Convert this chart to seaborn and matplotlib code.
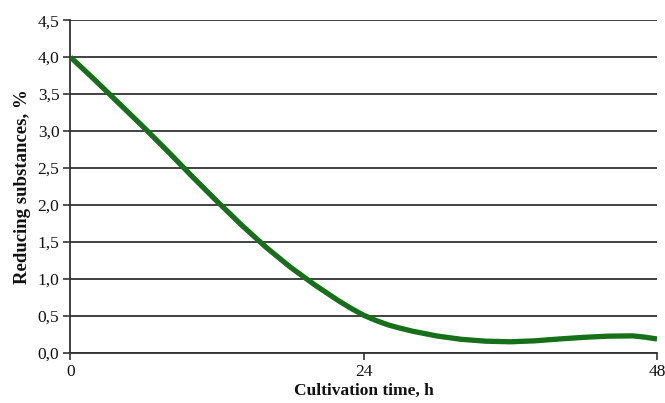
import matplotlib
matplotlib.use("Agg")
import matplotlib.pyplot as plt
import seaborn as sns
import pandas as pd

hours = [0, 2, 4, 6, 8, 10, 12, 14, 16, 18, 20, 21, 22, 23, 24, 25, 26, 27, 28, 30, 32, 34, 36, 38, 40,
         42, 44, 46, 47, 48]
reducing = [4.00, 3.69, 3.37, 3.05, 2.72, 2.38, 2.05, 1.73, 1.43, 1.16, 0.92, 0.81, 0.70, 0.60, 0.51,
            0.44, 0.38, 0.335, 0.295, 0.23, 0.185, 0.16, 0.152, 0.165, 0.19, 0.212, 0.228, 0.232, 0.215, 0.19]
x_ticks = [0, 24, 48]
y_ticks = [0.0, 0.5, 1.0, 1.5, 2.0, 2.5, 3.0, 3.5, 4.0, 4.5]

sns.set_theme(style="white")
plt.rcParams['font.family'] = ['Liberation Serif', 'DejaVu Serif']

df = pd.DataFrame({"Cultivation time, h": hours, "Reducing substances, %": reducing})

fig = plt.figure(figsize=(6.65, 4.03), dpi=100)
ax = fig.add_axes([0.106, 0.124, 0.882, 0.826])

for yv in y_ticks:
    ax.axhline(yv, color="#333333", lw=1.3, zorder=1)

sns.lineplot(data=df, x="Cultivation time, h", y="Reducing substances, %", ax=ax,
             color="#16701a", lw=3.8, zorder=3, solid_joinstyle="round", solid_capstyle="butt")

ax.set_xlim(0, 48)
ax.set_ylim(0, 4.5)
ax.set_xticks(x_ticks)
ax.set_xticklabels([str(v) for v in x_ticks])
ax.set_yticks(y_ticks)
ax.set_yticklabels([f"{v:.1f}".replace(".", ",") for v in y_ticks])
ax.tick_params(axis="both", which="major", length=5, width=1.2, color="#333333",
               labelsize=12.5, labelcolor="#111111", direction="out", bottom=True, left=True, pad=3)
for s in ["top", "right"]:
    ax.spines[s].set_visible(False)
for s in ["left", "bottom"]:
    ax.spines[s].set_color("#333333")
    ax.spines[s].set_linewidth(1.3)
ax.set_xlabel("Cultivation time, h", fontsize=12.5, fontweight="bold", color="#111111", labelpad=2)
ax.set_ylabel("Reducing substances, %", fontsize=13.5, fontweight="bold", color="#111111", labelpad=5)

fig.savefig("out.png", dpi=100)
